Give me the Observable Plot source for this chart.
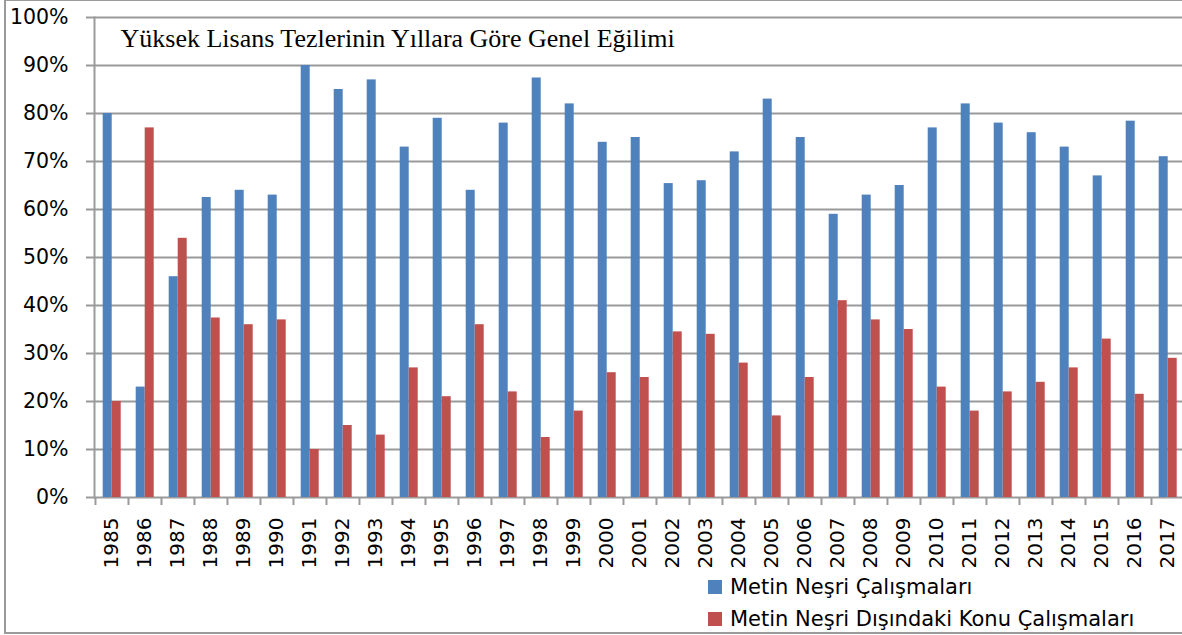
<!DOCTYPE html>
<html><head><meta charset="utf-8">
<script src="https://cdn.jsdelivr.net/npm/d3@7"></script>
<script src="https://cdn.jsdelivr.net/npm/@observablehq/plot@0.6"></script>
<style>
html,body{margin:0;padding:0;background:#fff;overflow:hidden;}
#wrap{position:relative;width:1182px;height:635px;overflow:hidden;}
#chart svg{display:block;}
#border{position:absolute;left:4px;top:-1px;right:-40px;height:635px;border:2px solid #9a9a9a;box-sizing:border-box;pointer-events:none;}
#legend{position:absolute;left:708px;top:571px;font-family:"DejaVu Sans",sans-serif;font-size:21px;color:#000;}
.item{display:flex;align-items:center;height:32px;white-space:nowrap;}
.sw{width:14px;height:14px;margin-right:8px;flex:none;}
</style></head>
<body><div id="wrap"><div id="chart"></div><div id="legend"></div><div id="border"></div></div>
<script>
const years = ["1985","1986","1987","1988","1989","1990","1991","1992","1993","1994","1995","1996","1997","1998","1999","2000","2001","2002","2003","2004","2005","2006","2007","2008","2009","2010","2011","2012","2013","2014","2015","2016","2017"];
const metinNesri = [80,23,46,62.5,64,63,90,85,87,73,79,64,78,87.4,82,74,75,65.4,66,72,83,75,59,63,65,77,82,78,76,73,67,78.4,71];
const digerKonular = [20,77,54,37.4,36,37,10,15,13,27,21,36,22,12.5,18,26,25,34.5,34,28,17,25,41,37,35,23,18,22,24,27,33,21.5,29];
const seriesNames = ["Metin Neşri Çalışmaları","Metin Neşri Dışındaki Konu Çalışmaları"];
const seriesColors = ["#4F81BD","#C0504D"];
const yTicks = [0,10,20,30,40,50,60,70,80,90,100];
const chartTitle = "Yüksek Lisans Tezlerinin Yıllara Göre Genel Eğilimi";

const rows = years.flatMap((y, i) => [
  {year: y, series: seriesNames[0], value: metinNesri[i]},
  {year: y, series: seriesNames[1], value: digerKonular[i]}
]);

const W = 1182, H = 571;
const mLeft = 94, yBottom = 497, yTop = 17;
const bw = 33.05;
const grid = "#9a9a9a";

const plot = Plot.plot({
  width: W, height: H,
  marginTop: yTop, marginBottom: H - yBottom, marginLeft: mLeft, marginRight: 0,
  style: {fontFamily: "'DejaVu Sans', sans-serif", fontSize: "20px", color: "#000", background: "transparent"},
  x: {type: "band", domain: years, range: [mLeft, mLeft + bw * years.length], padding: 0},
  y: {domain: [0, 100], range: [yBottom, yTop]},
  marks: [
    Plot.ruleY(yTicks, {stroke: grid, strokeWidth: 2}),
    Plot.axisY({ticks: yTicks, tickSize: 8, tickPadding: 18, tickFormat: d => d + "%", stroke: grid, strokeWidth: 2, label: null, fontSize: 20.5, fill: "#000"}),
    Plot.axisX({tickSize: 8, tickFormat: () => "", dx: -bw / 2, stroke: grid, strokeWidth: 2, label: null}),
    Plot.axisX({tickSize: 0, tickRotate: -90, tickPadding: 20, label: null, fontSize: 20, fill: "#000"}),
    Plot.frame({anchor: "left", stroke: grid, strokeWidth: 2}),
    Plot.barY(rows.filter(d => d.series === seriesNames[0]), {x: "year", y: "value", fill: seriesColors[0], insetLeft: 7.7, insetRight: 16.3}),
    Plot.barY(rows.filter(d => d.series === seriesNames[1]), {x: "year", y: "value", fill: seriesColors[1], insetLeft: 16.7, insetRight: 7.3}),
    Plot.text([chartTitle], {frameAnchor: "top-left", dx: 26, dy: 29, lineAnchor: "bottom", textAnchor: "start", fontFamily: "Liberation Serif", fontSize: 26, fill: "#000"})
  ]
});
document.getElementById("chart").appendChild(plot);

const legend = document.getElementById("legend");
seriesNames.forEach((name, i) => {
  const item = document.createElement("div");
  item.className = "item";
  const sw = document.createElement("span");
  sw.className = "sw";
  sw.style.background = seriesColors[i];
  const label = document.createElement("span");
  label.textContent = name;
  item.appendChild(sw);
  item.appendChild(label);
  legend.appendChild(item);
});
</script>
</body></html>
